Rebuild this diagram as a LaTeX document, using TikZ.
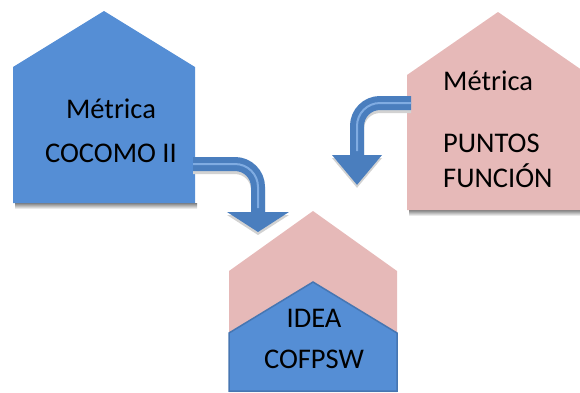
\documentclass[tikz,border=0pt]{standalone}
\usepackage{fontspec}
\setmainfont{Carlito}
\usetikzlibrary{arrows.meta}
\definecolor{boxblue}{RGB}{85,142,213}
\definecolor{boxpink}{RGB}{230,185,184}
\definecolor{lineblue}{RGB}{70,118,178}
\definecolor{arrowblue}{RGB}{74,126,190}
\definecolor{arrowlight}{RGB}{128,172,226}
\definecolor{shade}{RGB}{210,210,210}
\begin{document}
\begin{tikzpicture}[x=1pt,y=-1pt,
  lbl/.style={font=\fontsize{28.5}{34}\selectfont, inner sep=0pt, anchor=base},
  bigarrow/.style={line width=14pt, draw=arrowblue, rounded corners=23pt},
  arrowshade/.style={line width=14pt, draw=shade, rounded corners=23pt},
  hilite/.style={line width=2pt, draw=arrowlight, rounded corners=23pt}]
\useasboundingbox (0,0) rectangle (580,392);
\fill[shade] (15,203) rectangle (197,209);
\fill[fill=boxblue] (13,67) -- (104,11) -- (195,67) -- (195,203) -- (13,203) -- cycle;
\fill[shade] (409,210) rectangle (591,216);
\fill[fill=boxpink] (407,75) -- (498,12) -- (589,75) -- (589,210) -- (407,210) -- cycle;
\fill[fill=boxpink] (229,271) -- (313,211) -- (397,271) -- (397,392) -- (229,392) -- cycle;
\filldraw[fill=boxblue, draw=lineblue, line width=1.5pt] (229,333) -- (313,282) -- (397,333) -- (397,391) -- (229,391) -- cycle;
\node[lbl] (cocomoA) at (111,118) {Métrica};
\node[lbl] (cocomoB) at (111,162) {COCOMO II};
\node[lbl, anchor=base west] (pfA) at (443,90) {Métrica};
\node[lbl, anchor=base west] (pfB) at (443,152) {PUNTOS};
\node[lbl, anchor=base west] (pfC) at (443,187) {FUNCIÓN};
\node[lbl] (ideaA) at (314,327) {IDEA};
\node[lbl] (ideaB) at (314,368) {COFPSW};
\coordinate (cocomoOut) at (193,164);
\coordinate (ideaIn) at (258,232);
\coordinate (pfOut) at (411,103);
\coordinate (pfDown) at (357,185);
\draw[arrowshade, -{Triangle[width=61pt,length=20pt]}] ([yshift=-3pt]cocomoOut) -| ([yshift=-3pt]ideaIn);
\draw[bigarrow, -{Triangle[width=61pt,length=20pt]}] (cocomoOut) -| (ideaIn);
\draw[hilite, shorten >=24pt] (cocomoOut) -| (ideaIn);
\draw[arrowshade, -{Triangle[width=48pt,length=30pt]}] ([yshift=-3pt]pfOut) -| ([yshift=-3pt]pfDown);
\draw[bigarrow, -{Triangle[width=48pt,length=30pt]}] (pfOut) -| (pfDown);
\draw[hilite, shorten >=34pt] (pfOut) -| (pfDown);
\end{tikzpicture}
\end{document}
